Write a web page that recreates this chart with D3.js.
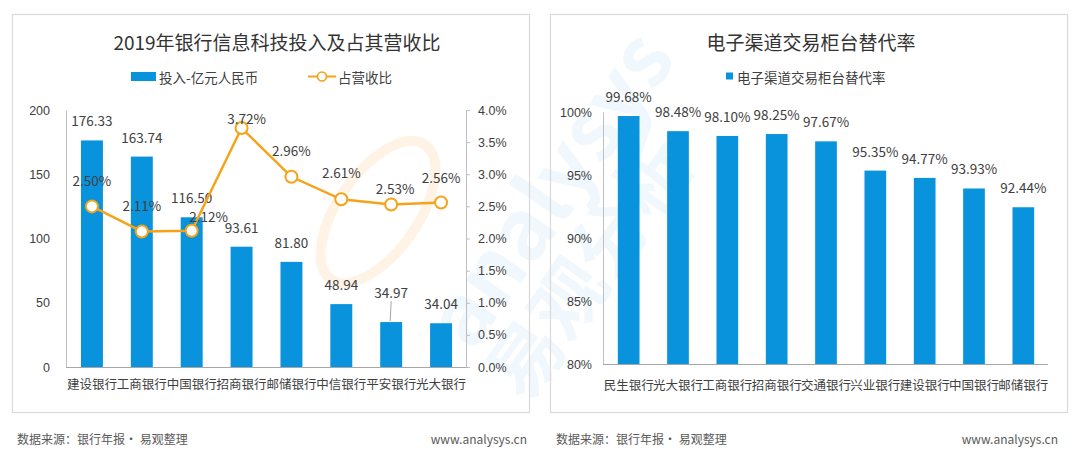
<!DOCTYPE html>
<html>
<head>
<meta charset="utf-8">
<script src="https://cdn.jsdelivr.net/npm/d3@7"></script>
<style>
  html, body { margin: 0; padding: 0; background: #ffffff; }
  svg { display: block; font-family: "Noto Sans CJK SC", "Noto Sans", sans-serif; }
</style>
</head>
<body>
<svg id="chart" width="1080" height="450"></svg>
<script>
// ---------- Data ----------
const leftTitle = "2019年银行信息科技投入及占其营收比";
const leftCategories = ["建设银行", "工商银行", "中国银行", "招商银行", "邮储银行", "中信银行", "平安银行", "光大银行"];
const investValues = [176.33, 163.74, 116.50, 93.61, 81.80, 48.94, 34.97, 34.04];
const revenueRatio = [2.50, 2.11, 2.12, 3.72, 2.96, 2.61, 2.53, 2.56];
const leftTicks = [0, 50, 100, 150, 200];
const rightTicks = [0, 0.5, 1.0, 1.5, 2.0, 2.5, 3.0, 3.5, 4.0];
const barSeriesName = "投入-亿元人民币";
const lineSeriesName = "占营收比";

const rightTitle = "电子渠道交易柜台替代率";
const rightCategories = ["民生银行", "光大银行", "工商银行", "招商银行", "交通银行", "兴业银行", "建设银行", "中国银行", "邮储银行"];
const substitutionRate = [99.68, 98.48, 98.10, 98.25, 97.67, 95.35, 94.77, 93.93, 92.44];
const rateTicks = [80, 85, 90, 95, 100];

const sourceText = "数据来源：银行年报· 易观整理";
const siteText = "www.analysys.cn";

// label nudges (layout only)
const lineLabelNudge = [[0,-26],[0,-26],[17,-15],[5,-10],[0,-27],[0,-27],[4,-16],[0,-26]];
const barLabelNudge = [-20,-20,-20,-20,-20,-20,-30,-20];

// ---------- Styles ----------
const BLUE = "#0a93dd";
const ORANGE = "#f5a31a";
const TEXT = "#404040";
const AXIS = "#bfbfbf";

const svg = d3.select("#chart");

// panels
const panels = [[12, 14, 517, 398], [550, 14, 517, 398]];
svg.selectAll("rect.panelbg").data(panels).join("rect")
  .attr("x", d => d[0]).attr("y", d => d[1]).attr("width", d => d[2]).attr("height", d => d[3])
  .attr("fill", "#fff");

// watermark (faint)
const wm = svg.append("g").attr("pointer-events", "none");
wm.append("ellipse").attr("cx", 378).attr("cy", 212).attr("rx", 40).attr("ry", 82)
  .attr("transform", "rotate(35,378,212)")
  .attr("fill", "none").attr("stroke", "#fef3e4").attr("stroke-width", 10);
wm.append("text").attr("x", 0).attr("y", 0)
  .attr("transform", "translate(545,185) rotate(-55)")
  .attr("text-anchor", "middle").attr("dominant-baseline", "central")
  .attr("font-size", 84).attr("font-weight", 700)
  .attr("fill", "#f0f8fd").text("analysys");
wm.append("text").attr("x", 0).attr("y", 0)
  .attr("transform", "translate(585,265) rotate(-55)")
  .attr("text-anchor", "middle").attr("dominant-baseline", "central")
  .attr("font-size", 74).attr("font-weight", 700)
  .attr("fill", "#f1f8fd").text("易观分析");

svg.selectAll("rect.panel").data(panels).join("rect")
  .attr("x", d => d[0] + 0.5).attr("y", d => d[1] + 0.5).attr("width", d => d[2]).attr("height", d => d[3])
  .attr("fill", "none").attr("stroke", "#d9d9d9").attr("stroke-width", 1.2);

// ================= LEFT CHART =================
const L = svg.append("g");
const xL = d3.scaleBand().domain(leftCategories).range([67, 466]).paddingInner(0.56).paddingOuter(0.28);
const yL = d3.scaleLinear().domain([0, 200]).range([367, 110]);
const yR = d3.scaleLinear().domain([0, 4.0]).range([367, 110]);

L.append("text").attr("x", 277).attr("y", 41).attr("text-anchor", "middle")
  .attr("dominant-baseline", "central").attr("font-size", 19).attr("fill", "#333").text(leftTitle);

// legend
L.append("rect").attr("x", 131).attr("y", 72).attr("width", 25).attr("height", 9).attr("fill", BLUE);
L.append("text").attr("x", 159).attr("y", 76.5).attr("dominant-baseline", "central")
  .attr("font-size", 13.5).attr("fill", TEXT).text(barSeriesName);
L.append("line").attr("x1", 308).attr("x2", 336).attr("y1", 76.5).attr("y2", 76.5)
  .attr("stroke", ORANGE).attr("stroke-width", 2);
L.append("circle").attr("cx", 322).attr("cy", 76.5).attr("r", 4.5)
  .attr("fill", "#fff").attr("stroke", ORANGE).attr("stroke-width", 1.6);
L.append("text").attr("x", 338).attr("y", 76.5).attr("dominant-baseline", "central")
  .attr("font-size", 13.5).attr("fill", TEXT).text(lineSeriesName);

// left axis
const axL = L.append("g").attr("transform", "translate(66,0)")
  .call(d3.axisLeft(yL).tickValues(leftTicks).tickSize(0).tickPadding(16));
axL.select(".domain").attr("stroke", AXIS);
axL.selectAll("text").attr("font-size", 12.5).attr("fill", TEXT).attr("font-family", "inherit");

// right axis
const axR = L.append("g").attr("transform", "translate(466,0)")
  .call(d3.axisRight(yR).tickValues(rightTicks).tickSize(4).tickPadding(8).tickFormat(d => d.toFixed(1) + "%"));
axR.select(".domain").attr("stroke", AXIS);
axR.selectAll(".tick line").attr("stroke", AXIS);
axR.selectAll("text").attr("font-size", 12.5).attr("fill", TEXT).attr("font-family", "inherit");

// bars
L.selectAll("rect.bar").data(investValues).join("rect")
  .attr("x", (d, i) => xL(leftCategories[i])).attr("width", xL.bandwidth())
  .attr("y", d => yL(d)).attr("height", d => yL(0) - yL(d)).attr("fill", BLUE);

// baseline
L.append("line").attr("x1", 66).attr("x2", 466).attr("y1", yL(0) + 0.5).attr("y2", yL(0) + 0.5)
  .attr("stroke", "#a6a6a6").attr("stroke-width", 1);

// bar labels
L.selectAll("text.bl").data(investValues).join("text")
  .attr("x", (d, i) => xL(leftCategories[i]) + xL.bandwidth() / 2)
  .attr("y", (d, i) => yL(d) + barLabelNudge[i])
  .attr("text-anchor", "middle").attr("dominant-baseline", "central")
  .attr("font-size", 13.5).attr("fill", TEXT).text(d => d.toFixed(2));
// leader line for nudged label
investValues.forEach((d, i) => {
  if (barLabelNudge[i] < -25) {
    const cx = xL(leftCategories[i]) + xL.bandwidth() / 2;
    L.append("line").attr("x1", cx).attr("x2", cx - 1).attr("y1", yL(d) + barLabelNudge[i] + 9).attr("y2", yL(d) - 1)
      .attr("stroke", "#a6a6a6").attr("stroke-width", 1);
  }
});

// line
const lineGen = d3.line().x((d, i) => xL(leftCategories[i]) + xL.bandwidth() / 2).y(d => yR(d));
L.append("path").datum(revenueRatio).attr("d", lineGen)
  .attr("fill", "none").attr("stroke", ORANGE).attr("stroke-width", 2.5);
L.selectAll("circle.pt").data(revenueRatio).join("circle")
  .attr("cx", (d, i) => xL(leftCategories[i]) + xL.bandwidth() / 2).attr("cy", d => yR(d)).attr("r", 6)
  .attr("fill", "#fff").attr("stroke", ORANGE).attr("stroke-width", 2);
L.selectAll("text.ll").data(revenueRatio).join("text")
  .attr("x", (d, i) => xL(leftCategories[i]) + xL.bandwidth() / 2 + lineLabelNudge[i][0])
  .attr("y", (d, i) => yR(d) + lineLabelNudge[i][1])
  .attr("text-anchor", "middle").attr("dominant-baseline", "central")
  .attr("font-size", 13.5).attr("fill", TEXT).text(d => d.toFixed(2) + "%");

// categories
L.selectAll("text.cat").data(leftCategories).join("text")
  .attr("x", d => xL(d) + xL.bandwidth() / 2).attr("y", 383)
  .attr("text-anchor", "middle").attr("dominant-baseline", "central")
  .attr("font-size", 12.5).attr("fill", TEXT).text(d => d);

// ================= RIGHT CHART =================
const R = svg.append("g");
const xR = d3.scaleBand().domain(rightCategories).range([604, 1048]).paddingInner(0.56).paddingOuter(0.28);
const yP = d3.scaleLinear().domain([80, 100]).range([364, 112]);

R.append("text").attr("x", 811).attr("y", 41).attr("text-anchor", "middle")
  .attr("dominant-baseline", "central").attr("font-size", 19).attr("fill", "#333").text(rightTitle);

R.append("rect").attr("x", 726).attr("y", 72.5).attr("width", 7).attr("height", 7).attr("fill", BLUE);
R.append("text").attr("x", 737).attr("y", 76.5).attr("dominant-baseline", "central")
  .attr("font-size", 13.5).attr("fill", TEXT).text(rightTitle);

const axP = R.append("g").attr("transform", "translate(603,0)")
  .call(d3.axisLeft(yP).tickValues(rateTicks).tickSize(0).tickPadding(11).tickFormat(d => d + "%"));
axP.select(".domain").attr("stroke", AXIS);
axP.selectAll("text").attr("font-size", 12.5).attr("fill", TEXT).attr("font-family", "inherit");

R.selectAll("rect.bar").data(substitutionRate).join("rect")
  .attr("x", (d, i) => xR(rightCategories[i])).attr("width", xR.bandwidth())
  .attr("y", d => yP(d)).attr("height", d => yP(80) - yP(d)).attr("fill", BLUE);

R.append("line").attr("x1", 603).attr("x2", 1048).attr("y1", yP(80) + 0.5).attr("y2", yP(80) + 0.5)
  .attr("stroke", "#a6a6a6").attr("stroke-width", 1);

R.selectAll("text.bl").data(substitutionRate).join("text")
  .attr("x", (d, i) => xR(rightCategories[i]) + xR.bandwidth() / 2)
  .attr("y", d => yP(d) - 20)
  .attr("text-anchor", "middle").attr("dominant-baseline", "central")
  .attr("font-size", 13.5).attr("fill", TEXT).text(d => d.toFixed(2) + "%");

R.selectAll("text.cat").data(rightCategories).join("text")
  .attr("x", d => xR(d) + xR.bandwidth() / 2).attr("y", 384)
  .attr("text-anchor", "middle").attr("dominant-baseline", "central")
  .attr("font-size", 12.5).attr("fill", TEXT).text(d => d);

// ================= FOOTERS =================
const footers = [[17, 527], [556, 1058]];
footers.forEach(f => {
  svg.append("text").attr("x", f[0]).attr("y", 438).attr("dominant-baseline", "central")
    .attr("font-size", 12).attr("fill", "#595959").text(sourceText);
  svg.append("text").attr("x", f[1]).attr("y", 438).attr("text-anchor", "end").attr("dominant-baseline", "central")
    .attr("font-size", 12).attr("fill", "#595959").text(siteText);
});
</script>
</body>
</html>
